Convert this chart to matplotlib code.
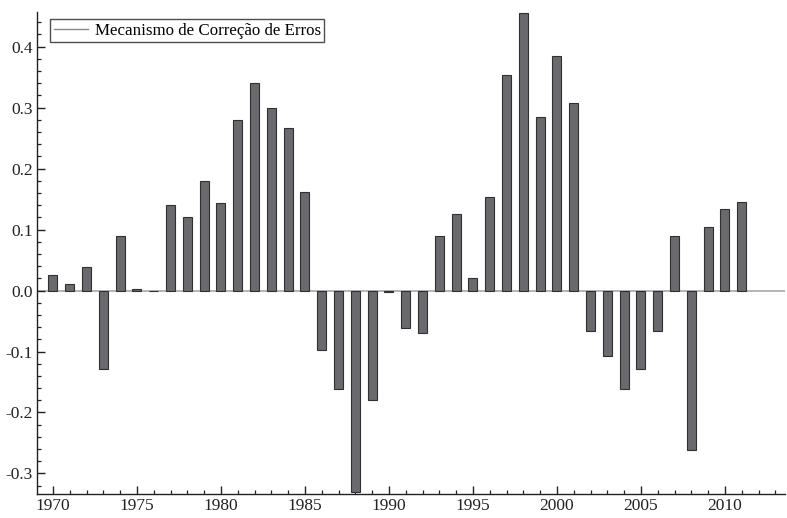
import matplotlib
matplotlib.use("Agg")
from matplotlib import pyplot as plt
from matplotlib.ticker import MultipleLocator, FormatStrFormatter
from matplotlib.lines import Line2D

plt.rcParams["font.family"] = ["Liberation Serif", "DejaVu Serif"]

years = list(range(1970, 2012))
ecm = [0.026, 0.011, 0.039, -0.129, 0.089, 0.002, -0.001, 0.141, 0.120, 0.179,
       0.144, 0.280, 0.340, 0.300, 0.267, 0.161, -0.097, -0.162, -0.330, -0.179,
       -0.002, -0.062, -0.070, 0.089, 0.125, 0.020, 0.154, 0.354, 0.456, 0.284,
       0.385, 0.307, -0.067, -0.107, -0.161, -0.128, -0.066, 0.090, -0.261, 0.105,
       0.134, 0.146]
label = "Mecanismo de Correção de Erros"

fig = plt.figure(figsize=(7.87, 5.18), dpi=100)
ax = fig.add_axes([0.047, 0.046, 0.951, 0.931])

ax.axhline(0, color="#a8a8a8", lw=1.2, zorder=1)
ax.bar(years, ecm, width=0.53, color="#6a6a6e", edgecolor="#303030", lw=0.8, zorder=2)

ax.set_xlim(1969.05, 2013.6)
ax.set_ylim(-0.334, 0.457)

ax.xaxis.set_major_locator(MultipleLocator(5))
ax.xaxis.set_minor_locator(MultipleLocator(1))
ax.yaxis.set_major_locator(MultipleLocator(0.1))
ax.yaxis.set_minor_locator(MultipleLocator(0.02))
ax.yaxis.set_major_formatter(FormatStrFormatter("%.1f"))

for s in ("top", "right"):
    ax.spines[s].set_visible(False)
for s in ("left", "bottom"):
    ax.spines[s].set_linewidth(1.0)
    ax.spines[s].set_color("#222222")

ax.tick_params(which="major", direction="in", length=6, width=1.0, labelsize=12.5,
               colors="#222222", pad=3)
ax.tick_params(which="minor", direction="in", length=3, width=0.9, colors="#222222")

handle = Line2D([], [], color="#888888", lw=1.0)
leg = ax.legend([handle], [label], loc="upper left", bbox_to_anchor=(0.018, 0.985),
                fontsize=12.2, frameon=True, fancybox=False, handlelength=2.0,
                borderpad=0.2, handletextpad=0.4, borderaxespad=0)
leg.get_frame().set_edgecolor("#222222")
leg.get_frame().set_linewidth(1.0)

fig.savefig("out.png", dpi=100)
